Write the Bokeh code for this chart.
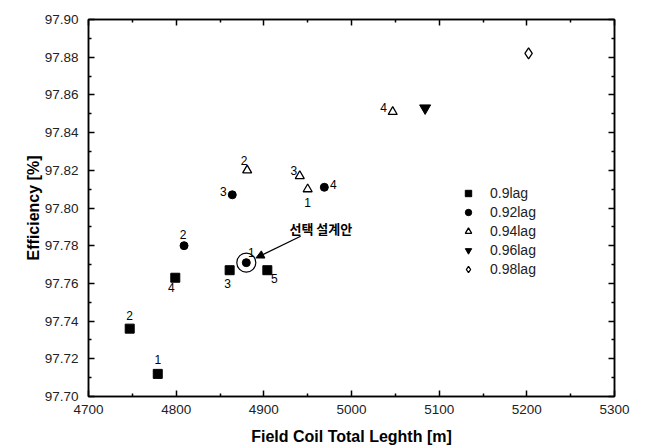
from bokeh.plotting import figure
from bokeh.models import Range1d, LinearAxis, FixedTicker, PrintfTickFormatter, Legend, LegendItem, Arrow, NormalHead, ColumnDataSource
from bokeh.core.properties import value
from bokeh.embed import file_html
from bokeh.resources import INLINE

# ---- data ----
lag090_x = [4779, 4747, 4799, 4861, 4904]
lag090_y = [97.712, 97.736, 97.763, 97.767, 97.767]
lag090_lbl = ["1", "2", "4", "3", "5"]

lag092_x = [4809, 4880, 4864, 4969]
lag092_y = [97.780, 97.771, 97.807, 97.811]
lag092_lbl = ["2", "1", "3", "4"]

lag094_x = [4881, 4941, 4950, 5047]
lag094_y = [97.820, 97.817, 97.810, 97.851]
lag094_lbl = ["2", "3", "1", "4"]

lag096_x = [5084]
lag096_y = [97.853]

lag098_x = [5202]
lag098_y = [97.882]

series_names = ["0.9lag", "0.92lag", "0.94lag", "0.96lag", "0.98lag"]

selected_x = [4880]
selected_y = [97.771]
annot_text = "선택 설계안"
annot_text_x = 4965
annot_text_y = 97.789
arrow_start = (4942, 97.785)
arrow_end = (4891, 97.7735)

x_ticks = [4700, 4800, 4900, 5000, 5100, 5200, 5300]
y_ticks = [97.70, 97.72, 97.74, 97.76, 97.78, 97.80, 97.82, 97.84, 97.86, 97.88, 97.90]

# ---- styles ----
off090 = ([0, 0, -4, -2, 7], [-14, -13, 10, 13, 8])
off092 = ([-1, 5, -9, 9], [-11, -10, -3, -3])
off094 = ([-3, -6, 0, -9], [-10, -5, 13, -4])

FONT = "Liberation Sans"

p = figure(width=646, height=447, output_backend="svg", toolbar_location=None,
           x_range=Range1d(4700, 5300), y_range=Range1d(97.70, 97.90),
           min_border_left=88, min_border_right=32, min_border_top=19, min_border_bottom=51)
p.xgrid.visible = False
p.ygrid.visible = False
p.outline_line_color = "black"
p.outline_line_width = 1.5
p.background_fill_color = "white"
p.border_fill_color = "white"

def style_axis(ax, labels=True):
    ax.axis_line_color = "black"
    ax.axis_line_width = 1.5
    ax.major_tick_in = 6
    ax.major_tick_out = 0
    ax.minor_tick_in = 3
    ax.minor_tick_out = 0
    ax.major_tick_line_width = 1.5
    ax.minor_tick_line_width = 1.5
    ax.major_tick_line_color = "black"
    ax.minor_tick_line_color = "black"
    if not labels:
        ax.major_label_text_font_size = "0px"
        ax.major_label_text_color = None

xt = FixedTicker(ticks=x_ticks, minor_ticks=[x + 50 for x in x_ticks[:-1]])
yt = FixedTicker(ticks=y_ticks, minor_ticks=[round(y + 0.01, 3) for y in y_ticks[:-1]])

p.xaxis.ticker = xt
p.yaxis.ticker = yt
p.yaxis.formatter = PrintfTickFormatter(format="%.2f")
for ax in p.xaxis + p.yaxis:
    style_axis(ax)
    ax.major_label_text_font = FONT
    ax.major_label_text_font_size = "13.5px"
    ax.major_label_text_color = "#222222"
    ax.axis_label_text_font = FONT
    ax.axis_label_text_font_size = "16px"
    ax.axis_label_text_font_style = "bold"
    ax.axis_label_text_color = "black"
p.xaxis.axis_label = "Field Coil Total Leghth [m]"
p.yaxis.axis_label = "Efficiency [%]"
p.xaxis.major_label_standoff = 8
p.yaxis.major_label_standoff = 10
p.xaxis.axis_label_standoff = 11
p.yaxis.axis_label_standoff = 0

top = LinearAxis(ticker=FixedTicker(ticks=x_ticks, minor_ticks=[x + 50 for x in x_ticks[:-1]]))
style_axis(top, labels=False)
p.add_layout(top, "above")
right = LinearAxis(ticker=FixedTicker(ticks=y_ticks, minor_ticks=[round(y + 0.01, 3) for y in y_ticks[:-1]]))
style_axis(right, labels=False)
p.add_layout(right, "right")

r1 = p.scatter(lag090_x, lag090_y, marker="square", size=9, fill_color="black", line_color="black")
r2 = p.scatter(lag092_x, lag092_y, marker="circle", size=8, fill_color="black", line_color="black")
r3 = p.scatter(lag094_x, lag094_y, marker="triangle", size=9, fill_color="white", line_color="black", line_width=1.3)
r4 = p.scatter(lag096_x, lag096_y, marker="inverted_triangle", size=11, fill_color="black", line_color="black")
r5 = p.scatter(lag098_x, lag098_y, marker="diamond", size=11, fill_color="white", line_color="black", line_width=1.3)

# selection ring
p.scatter(selected_x, selected_y, marker="circle", size=19, fill_color=None, line_color="black", line_width=1.2)

def point_labels(xs, ys, lbls, offs):
    src = ColumnDataSource(dict(x=xs, y=ys, t=lbls, dx=offs[0], dy=offs[1]))
    p.text(x="x", y="y", text="t", x_offset="dx", y_offset="dy", source=src,
           text_font=value(FONT), text_font_size="12px", text_align="center",
           text_baseline="middle", text_color="black")

point_labels(lag090_x, lag090_y, lag090_lbl, off090)
point_labels(lag092_x, lag092_y, lag092_lbl, off092)
point_labels(lag094_x, lag094_y, lag094_lbl, off094)

p.text(x=[annot_text_x], y=[annot_text_y], text=[annot_text],
       text_font=value("Noto Sans CJK KR"), text_font_size="13px", text_font_style="bold",
       text_align="center", text_baseline="middle", text_color="black")
p.add_layout(Arrow(end=NormalHead(size=8, fill_color="black", line_color="black"),
                   x_start=arrow_start[0], y_start=arrow_start[1],
                   x_end=arrow_end[0], y_end=arrow_end[1],
                   line_color="black", line_width=1.3))

legend = Legend(items=[LegendItem(label=n, renderers=[r]) for n, r in zip(series_names, [r1, r2, r3, r4, r5])],
                location=(370, 119), border_line_color=None, background_fill_alpha=0,
                glyph_height=16, label_height=16, glyph_width=20, spacing=3, padding=0, margin=0,
                label_standoff=12, label_text_font=FONT, label_text_font_size="14px",
                label_text_color="#222222")
p.add_layout(legend)

open("out.html", "w").write(file_html(p, INLINE))
